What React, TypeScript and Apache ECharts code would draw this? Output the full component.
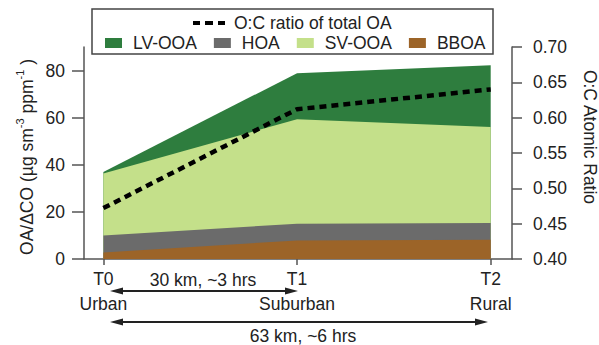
import React, { useEffect, useRef } from 'react';
import * as echarts from 'echarts';

// ---- data ----
const categories = ['T0', 'T1', 'T2'];
const locations = ['Urban', 'Suburban', 'Rural'];
const positions = [0, 1, 2];
const bboa = [2.8, 7.9, 8.2];
const hoa = [7.2, 7.1, 7.1];
const svooa = [26.3, 44.3, 40.7];
const lvooa = [0.6, 19.6, 26.3];
const ocRatio = [0.472, 0.612, 0.64];
const leftTicks = [0, 20, 40, 60, 80];
const rightTicks = [0.4, 0.45, 0.5, 0.55, 0.6, 0.65, 0.7];
const legendAreas = ['LV-OOA', 'HOA', 'SV-OOA', 'BBOA'];
const ocName = 'O:C ratio of total OA';

const FONT = '"Liberation Sans", Arial, Helvetica, sans-serif';
const TXT = '#222';
const AXIS = '#555';
const FS = 17.5;

const COLORS: Record<string, string> = {
  'LV-OOA': '#2e7d3e',
  HOA: '#6b6b6b',
  'SV-OOA': '#c4e08a',
  BBOA: '#9c6428',
};

// cumulative tops (bottom to top: BBOA, HOA, SV-OOA, LV-OOA)
const layers: [string, number[]][] = [
  ['BBOA', bboa],
  ['HOA', hoa],
  ['SV-OOA', svooa],
  ['LV-OOA', lvooa],
];

function buildCumulative() {
  const out: { name: string; tops: number[] }[] = [];
  let run = positions.map(() => 0);
  for (const [name, vals] of layers) {
    run = run.map((r, i) => +(r + vals[i]).toFixed(3));
    out.push({ name, tops: run.slice() });
  }
  return out;
}

function areaSeries(name: string, tops: number[]) {
  return {
    name,
    type: 'line',
    data: tops.map((v, i) => [positions[i], v]),
    symbol: 'none',
    color: COLORS[name],
    lineStyle: { width: 0 },
    itemStyle: { color: COLORS[name] },
    areaStyle: { color: COLORS[name], opacity: 1 },
    z: 2,
  };
}

function arrow(x1: number, x2: number, y: number) {
  const L = 13;
  const H = 3.6;
  return [
    {
      type: 'line',
      shape: { x1: x1 + 4, y1: y, x2: x2 - 4, y2: y },
      style: { stroke: TXT, lineWidth: 2 },
    },
    {
      type: 'polygon',
      shape: { points: [[x1, y], [x1 + L, y - H], [x1 + L, y + H]] },
      style: { fill: TXT },
    },
    {
      type: 'polygon',
      shape: { points: [[x2, y], [x2 - L, y - H], [x2 - L, y + H]] },
      style: { fill: TXT },
    },
  ];
}

export default function App() {
  const ref = useRef<HTMLDivElement>(null);

  useEffect(() => {
    document.body.style.margin = '0';
    if (!ref.current) return;
    const chart = echarts.init(ref.current, null, { renderer: 'svg' });
    const textStyle = { fontFamily: FONT, fontSize: FS, color: TXT };
    const axisLine = { show: true, onZero: false, lineStyle: { color: AXIS, width: 1.5 } };
    const cum = buildCumulative();
    // draw top layer first so lower layers overlay it
    const areas = cum.slice().reverse().map((c) => areaSeries(c.name, c.tops));

    chart.setOption({
      animation: false,
      backgroundColor: '#fff',
      textStyle: { fontFamily: FONT },
      grid: { left: 84, right: 87, top: 47, bottom: 86 },
      legend: [
        {
          data: [
            {
              name: ocName,
              icon: 'path://M0,0h7v4h-7z M12,0h8v4h-8z M25,0h7v4h-7z',
              itemStyle: { color: '#000' },
            },
          ],
          left: 193,
          top: 13,
          padding: 0,
          itemWidth: 32,
          itemHeight: 4.5,
          selectedMode: false,
          textStyle: { ...textStyle, lineHeight: 20, padding: [0, 0, 0, 4] },
        },
        {
          data: legendAreas,
          left: 105,
          top: 33,
          padding: 0,
          itemGap: 17,
          itemWidth: 17,
          itemHeight: 10,
          icon: 'rect',
          selectedMode: false,
          textStyle: { ...textStyle, lineHeight: 20, padding: [0, 0, 0, 6] },
        },
      ],
      xAxis: {
        type: 'value',
        min: -0.1,
        max: 2.11,
        splitLine: { show: false },
        axisLine,
        axisTick: { show: true, customValues: positions, length: 6, lineStyle: { color: AXIS, width: 1.5 } },
        axisLabel: {
          customValues: positions,
          formatter: (v: number) => {
            const i = Math.round(v);
            return `${categories[i]}\n${locations[i]}`;
          },
          margin: 7,
          lineHeight: 25,
          ...textStyle,
        },
      },
      yAxis: [
        {
          type: 'value',
          min: 0,
          max: 90,
          position: 'left',
          splitLine: { show: false },
          axisLine,
          axisTick: { show: true, customValues: leftTicks, length: 12, lineStyle: { color: AXIS, width: 1.5 } },
          axisLabel: { customValues: leftTicks, margin: 19, ...textStyle },
        },
        {
          type: 'value',
          min: 0.4,
          max: 0.7,
          interval: 0.05,
          position: 'right',
          splitLine: { show: false },
          axisLine,
          axisTick: { show: true, customValues: rightTicks, length: 10, lineStyle: { color: AXIS, width: 1.5 } },
          axisLabel: {
            customValues: rightTicks,
            margin: 21,
            formatter: (v: number) => v.toFixed(2),
            ...textStyle,
          },
        },
      ],
      series: [
        ...areas,
        {
          name: ocName,
          type: 'line',
          yAxisIndex: 1,
          data: ocRatio.map((v, i) => [positions[i], v]),
          symbol: 'none',
          color: '#000',
          lineStyle: { color: '#000', width: 4.5, type: [7, 5] },
          z: 5,
        },
      ],
      graphic: [
        {
          type: 'rect',
          shape: { x: 92, y: 9, width: 401, height: 45 },
          style: { fill: 'none', stroke: '#444', lineWidth: 1.5 },
          z: 10,
        },
        {
          type: 'text',
          x: 27,
          y: 157,
          rotation: Math.PI / 2,
          style: {
            text: '{a|OA/ΔCO (µg sm}{s|-3}{a| ppm}{s|-1}{a| )}',
            textAlign: 'center',
            textVerticalAlign: 'middle',
            rich: {
              a: { fontFamily: FONT, fontSize: FS, fill: TXT, color: TXT, lineHeight: 26, verticalAlign: 'middle' },
              s: { fontFamily: FONT, fontSize: 11, fill: TXT, color: TXT, lineHeight: 11, verticalAlign: 'top' },
            },
          },
        },
        {
          type: 'text',
          x: 590,
          y: 137,
          rotation: -Math.PI / 2,
          style: {
            text: 'O:C Atomic Ratio',
            font: `${FS}px ${FONT}`,
            fill: TXT,
            textAlign: 'center',
            textVerticalAlign: 'middle',
          },
        },
        {
          type: 'text',
          x: 203,
          y: 280,
          style: { text: '30 km, ~3 hrs', font: `${FS}px ${FONT}`, fill: TXT, textAlign: 'center', textVerticalAlign: 'middle' },
        },
        {
          type: 'text',
          x: 303,
          y: 336,
          style: { text: '63 km, ~6 hrs', font: `${FS}px ${FONT}`, fill: TXT, textAlign: 'center', textVerticalAlign: 'middle' },
        },
        ...arrow(110, 298, 291),
        ...arrow(110, 488, 322),
      ],
    });

    return () => chart.dispose();
  }, []);

  return <div ref={ref} style={{ width: 599, height: 345 }} />;
}
